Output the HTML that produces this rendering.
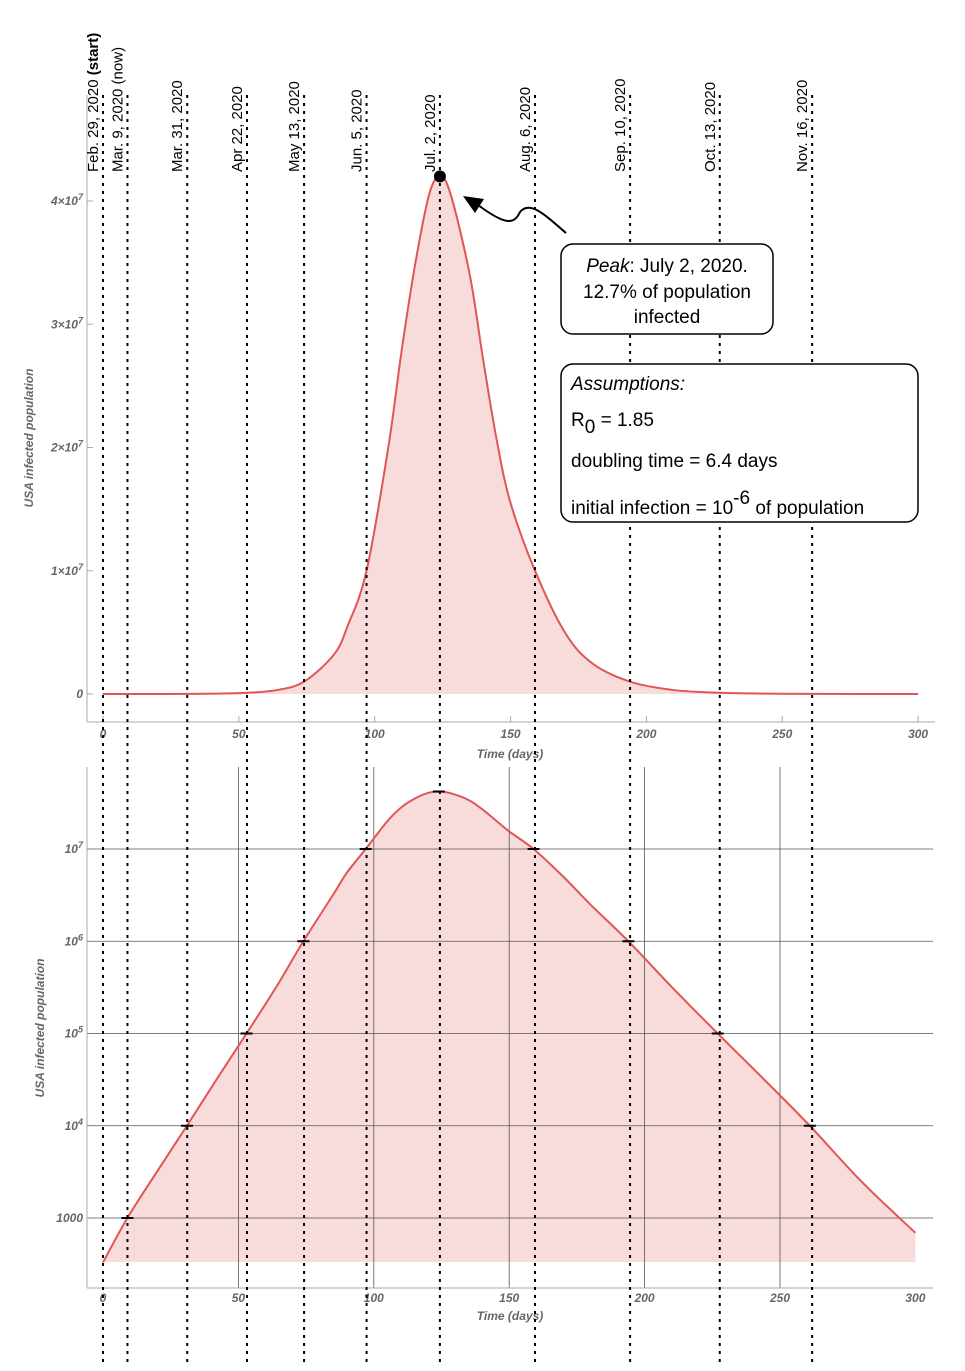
<!DOCTYPE html>
<html><head><meta charset="utf-8"><style>
body{margin:0;background:#fff;}
svg text{font-family:"Liberation Sans",sans-serif;}
.tk{font-size:12px;font-style:italic;font-weight:bold;fill:#666;}
</style></head><body>
<svg id="c" width="965" height="1366" xmlns="http://www.w3.org/2000/svg"></svg>
<script>
const days=[0,9,20,31,42,53,64,74,85,90,97,105,110,115,120,124,128,135,140,145,150,159,170,180,194,210,227,244,261,280,300];
const infected=[330,1000,3200,1e4,3.2e4,1e5,3.2e5,1e6,3.2e6,5.5e6,1e7,2.0e7,2.8e7,3.5e7,4.05e7,4.2e7,4.05e7,3.4e7,2.7e7,2.05e7,1.55e7,1e7,5.0e6,2.5e6,1e6,3.2e5,1e5,3.2e4,1e4,2.5e3,690];
const eventDays=[0,9,31,53,74,97,124,159,194,227,261];
const eventLabels=["Feb. 29, 2020 ","Mar. 9, 2020 (now)","Mar. 31, 2020","Apr 22, 2020","May 13, 2020","Jun. 5, 2020","Jul. 2, 2020","Aug. 6, 2020","Sep. 10, 2020","Oct. 13, 2020","Nov. 16, 2020"];
const xTicks=[0,50,100,150,200,250,300];
const linTicks=[0,1e7,2e7,3e7,4e7];
const linTickLabels=["0","1×10<tspan dy='-5' font-size='9'>7</tspan>","2×10<tspan dy='-5' font-size='9'>7</tspan>","3×10<tspan dy='-5' font-size='9'>7</tspan>","4×10<tspan dy='-5' font-size='9'>7</tspan>"];
const logTicks=[3,4,5,6,7];
const logTickLabels=["1000","10<tspan dy='-5' font-size='9'>4</tspan>","10<tspan dy='-5' font-size='9'>5</tspan>","10<tspan dy='-5' font-size='9'>6</tspan>","10<tspan dy='-5' font-size='9'>7</tspan>"];

const svg=document.getElementById('c');
const NS='http://www.w3.org/2000/svg';
function add(tag,attrs,name,parent){const e=document.createElementNS(NS,tag);for(const k in attrs)e.setAttribute(k,attrs[k]);


(parent||svg).appendChild(e);return e;}
const xT=d=>103+d*2.717, yT=v=>694-v*1.2325e-5;
const xB=d=>103+d*2.708, yB=v=>1218-(Math.log10(v)-3)*92.25;
function smooth(pts){let s=`M${pts[0][0]},${pts[0][1]}`;for(let i=0;i<pts.length-1;i++){const p0=pts[Math.max(0,i-1)],p1=pts[i],p2=pts[i+1],p3=pts[Math.min(pts.length-1,i+2)];
s+=` C${p1[0]+(p2[0]-p0[0])/6},${p1[1]+(p2[1]-p0[1])/6} ${p2[0]-(p3[0]-p1[0])/6},${p2[1]-(p3[1]-p1[1])/6} ${p2[0]},${p2[1]}`;}return s;}

// top chart
const ptsT=days.map((d,i)=>[xT(d),yT(infected[i])]);
const cT=smooth(ptsT);
add('path',{d:cT+` L${xT(300)},${yT(0)} L${xT(0)},${yT(0)} Z`,fill:'#f8dcdc'},'top-area-fill');
add('path',{d:cT,fill:'none',stroke:'#e05555','stroke-width':2},'top-infection-curve');
add('line',{x1:87,y1:95,x2:87,y2:722,stroke:'#aaa'},'top-y-axis');
add('line',{x1:87,y1:722,x2:935,y2:722,stroke:'#aaa'},'top-x-axis');
xTicks.forEach(t=>{add('line',{x1:xT(t),y1:722,x2:xT(t),y2:716,stroke:'#aaa'},'top-x-tick');
const tx=add('text',{x:xT(t),y:738,'text-anchor':'middle',class:'tk'},'top-x-tick-label');tx.textContent=t;});
linTicks.forEach((t,i)=>{add('line',{x1:87,y1:yT(t),x2:93,y2:yT(t),stroke:'#aaa'},'top-y-tick');
const tx=add('text',{x:83,y:yT(t)+4,'text-anchor':'end',class:'tk'},'top-y-tick-label');tx.innerHTML=linTickLabels[i];});
let t1=add('text',{x:510,y:758,'text-anchor':'middle',class:'tk'},'top-x-axis-title');t1.textContent='Time (days)';
t1=add('text',{x:0,y:0,transform:'translate(33,438) rotate(-90)','text-anchor':'middle',class:'tk'},'top-y-axis-title');t1.textContent='USA infected population';

// bottom chart
const ptsB=days.map((d,i)=>[xB(d),yB(infected[i])]);
const cB=smooth(ptsB);
add('path',{d:cB+` L${xB(300)},1262 L${xB(0)},1262 Z`,fill:'#f8dcdc'},'bottom-area-fill');
[50,100,150,200,250].forEach(t=>add('line',{x1:xB(t),y1:767,x2:xB(t),y2:1288,stroke:'#555','stroke-width':0.8},'bottom-vertical-grid'));
logTicks.forEach(t=>add('line',{x1:87,y1:yB(Math.pow(10,t)),x2:933,y2:yB(Math.pow(10,t)),stroke:'#555','stroke-width':0.8},'bottom-horizontal-grid'));
add('path',{d:cB,fill:'none',stroke:'#e05555','stroke-width':2},'bottom-infection-curve');
add('line',{x1:87,y1:767,x2:87,y2:1288,stroke:'#aaa'},'bottom-y-axis');
add('line',{x1:87,y1:1288,x2:933,y2:1288,stroke:'#aaa'},'bottom-x-axis');
xTicks.forEach(t=>{const tx=add('text',{x:xB(t),y:1302,'text-anchor':'middle',class:'tk'},'bottom-x-tick-label');tx.textContent=t;});
logTicks.forEach((t,i)=>{const tx=add('text',{x:83,y:yB(Math.pow(10,t))+4,'text-anchor':'end',class:'tk'},'bottom-y-tick-label');tx.innerHTML=logTickLabels[i];});
t1=add('text',{x:510,y:1320,'text-anchor':'middle',class:'tk'},'bottom-x-axis-title');t1.textContent='Time (days)';
t1=add('text',{x:0,y:0,transform:'translate(44,1028) rotate(-90)','text-anchor':'middle',class:'tk'},'bottom-y-axis-title');t1.textContent='USA infected population';

// event lines
eventDays.forEach((d,i)=>{const x=xT(d);
add('line',{x1:x,y1:95,x2:x,y2:1366,stroke:'#000','stroke-width':2,'stroke-dasharray':'3,5'},'event-date-line');
const v=infected[days.indexOf(d)];
if(v!==undefined&&v>=1000)add('line',{x1:xB(d)-6,y1:yB(v),x2:xB(d)+6,y2:yB(v),stroke:'#000','stroke-width':2},'event-curve-marker');
const tx=add('text',{x:0,y:0,transform:`translate(${x-5},172) rotate(-90)`,'font-size':15},'event-date-label');
tx.textContent=eventLabels[i];
if(i==0){const b=document.createElementNS(NS,'tspan');b.setAttribute('font-weight','bold');b.textContent='(start)';tx.appendChild(b);}
});

// peak
add('circle',{cx:xT(124),cy:yT(4.2e7),r:6,fill:'#000'},'peak-marker');
add('path',{d:'M566,233 C545,215 530,200 520,212 C514,225 505,225 478,205',fill:'none',stroke:'#000','stroke-width':2},'peak-arrow');
add('path',{d:'M463,196 L484,199 L475,213 Z',fill:'#000'},'peak-arrowhead');
add('rect',{x:561,y:244,width:212,height:90,rx:12,fill:'#fff',stroke:'#000','stroke-width':1.5},'peak-annotation-box');
let p=add('text',{x:667,y:272,'text-anchor':'middle','font-size':19},'peak-text');p.innerHTML='<tspan font-style="italic">Peak</tspan>: July 2, 2020.';
p=add('text',{x:667,y:298,'text-anchor':'middle','font-size':19},'peak-text');p.textContent='12.7% of population';
p=add('text',{x:667,y:323,'text-anchor':'middle','font-size':19},'peak-text');p.textContent='infected';
add('rect',{x:561,y:364,width:357,height:158,rx:12,fill:'#fff',stroke:'#000','stroke-width':1.5},'assumptions-box');
p=add('text',{x:571,y:390,'font-size':19,'font-style':'italic'},'assumptions-title');p.textContent='Assumptions:';
p=add('text',{x:571,y:426,'font-size':19},'assumption-r0');p.innerHTML='R<tspan dy="7">0</tspan><tspan dy="-7"> = 1.85</tspan>';
p=add('text',{x:571,y:467,'font-size':19},'assumption-doubling');p.textContent='doubling time = 6.4 days';
p=add('text',{x:571,y:514,'font-size':19},'assumption-initial');p.innerHTML='initial infection = 10<tspan dy="-10">-6</tspan><tspan dy="10"> of population</tspan>';
</script>
</body></html>
